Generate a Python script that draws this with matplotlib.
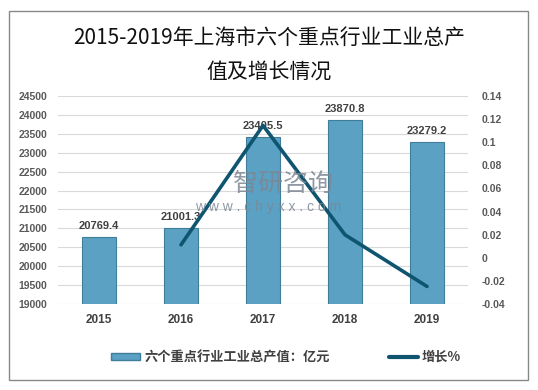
import numpy as np
import matplotlib.pyplot as plt
from matplotlib.patches import Rectangle
from matplotlib.lines import Line2D
from matplotlib.patches import Patch

plt.rcParams['font.family'] = ['Liberation Sans', 'Noto Sans CJK SC', 'DejaVu Sans']

# 数据
years = ['2015', '2016', '2017', '2018', '2019']
output = [20769.4, 21001.3, 23405.5, 23870.8, 23279.2]
growth_years = ['2016', '2017', '2018', '2019']
growth = [0.0112, 0.1145, 0.0199, -0.0248]
left_ticks = list(range(19000, 25000, 500))
right_ticks = [-0.04, -0.02, 0, 0.02, 0.04, 0.06, 0.08, 0.1, 0.12, 0.14]
right_labels = ['-0.04', '-0.02', '0', '0.02', '0.04', '0.06', '0.08', '0.1', '0.12', '0.14']

bar_color = '#5aa1c4'
line_color = '#0f5570'
text_gray = '#595959'

fig = plt.figure(figsize=(5.38, 3.9), dpi=100)
fig.patches.append(Rectangle((9 / 538, 10 / 390), 519 / 538, 369 / 390,
                             transform=fig.transFigure, fill=False,
                             edgecolor='#888888', linewidth=1))

ax = fig.add_axes([58 / 538, 86 / 390, 410 / 538, 208 / 390])
x = np.arange(len(years))
ax.bar(x, output, width=0.42, color=bar_color, edgecolor='#3f7d99',
       linewidth=0.8, zorder=2)
for xi, v in zip(x, output):
    ax.text(xi, v + 160, '{:.1f}'.format(v), ha='center', va='bottom',
            fontsize=8, fontweight='bold', color='#404040', zorder=4)

ax.set_ylim(19000, 24500)
ax.set_xlim(-0.5, 4.5)
ax.set_yticks(left_ticks)
ax.set_yticklabels([str(t) for t in left_ticks])
ax.set_xticks(x)
ax.set_xticklabels(years)
ax.grid(axis='y', color='#d9d9d9', linewidth=0.8, zorder=0)
ax.set_axisbelow(True)
for s in ax.spines.values():
    s.set_visible(False)
ax.tick_params(axis='both', length=0, labelsize=7.5, colors=text_gray)
ax.tick_params(axis='y', pad=8)
ax.tick_params(axis='x', pad=7, labelsize=8.5, labelcolor='#404040')
for lab in ax.get_xticklabels() + ax.get_yticklabels():
    lab.set_fontweight('bold')

ax2 = ax.twinx()
gx = [years.index(y) for y in growth_years]
ax2.plot(gx, growth, color=line_color, linewidth=2.6, solid_joinstyle='round',
         solid_capstyle='round', zorder=3)
ax2.set_ylim(-0.04, 0.14)
ax2.set_yticks(right_ticks)
ax2.set_yticklabels(right_labels)
for s in ax2.spines.values():
    s.set_visible(False)
ax2.tick_params(axis='y', length=0, labelsize=7.5, colors=text_gray, pad=10)
for lab in ax2.get_yticklabels():
    lab.set_fontweight('bold')

# 水印
fig.text(283 / 538, 1 - 184 / 390, '智研咨询', fontsize=18, color='#7d8794', alpha=0.85,
         ha='center', va='center', family=['Noto Sans CJK SC'], zorder=5)
fig.text(268 / 538, 1 - 207 / 390, 'w w w . c h y x x . c o m', fontsize=10,
         color='#7d8794', alpha=0.85, ha='center', va='center', zorder=5)

# 标题
fig.text(0.5, 1 - 38 / 390, '2015-2019年上海市六个重点行业工业总产', fontsize=15,
         ha='center', va='center', color='#111111',
         family=['Noto Sans CJK SC', 'DejaVu Sans'])
fig.text(0.5, 1 - 72 / 390, '值及增长情况', fontsize=15,
         ha='center', va='center', color='#111111',
         family=['Noto Sans CJK SC', 'DejaVu Sans'])

# 图例
handles = [Patch(facecolor=bar_color, edgecolor='#3f7d99'),
           Line2D([0], [0], color=line_color, linewidth=3, solid_capstyle='round')]
leg = fig.legend(handles, ['六个重点行业工业总产值：亿元', '增长%'],
                 loc='center', bbox_to_anchor=(0.532, 1 - 357 / 390), ncol=2,
                 frameon=False, columnspacing=4.5, handlelength=2.2,
                 handleheight=0.5, handletextpad=0.3,
                 prop={'family': ['Noto Sans CJK SC', 'DejaVu Sans'],
                       'size': 9.5, 'weight': 'bold'})
for t in leg.get_texts():
    t.set_color('#404040')

fig.savefig('out.png', dpi=100)
